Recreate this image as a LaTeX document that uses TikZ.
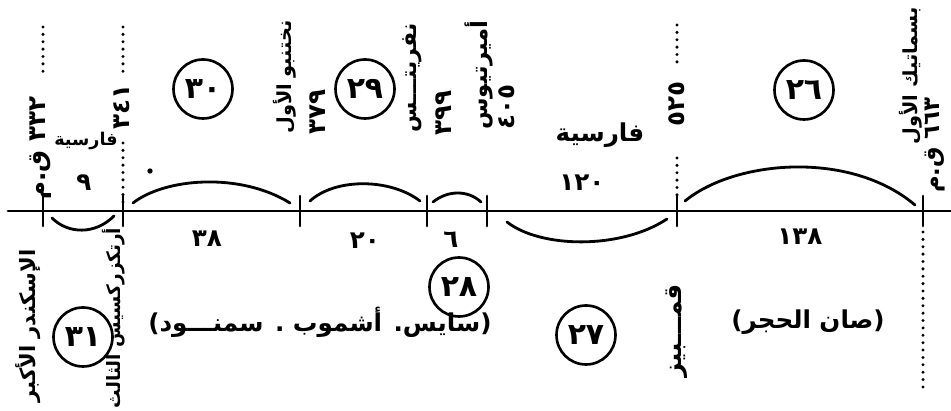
\documentclass[tikz,border=0pt]{standalone}
\usepackage{fontspec}
\newfontfamily\arabicfont[Script=Arabic]{DejaVu Sans}
\TeXXeTstate=1
\newcommand\artxt[1]{\arabicfont\bfseries\beginR #1\endR}

\begin{document}
\begin{tikzpicture}[x=0.02cm,y=-0.02cm,
    hand/.style={line width=1.6pt,line cap=round},
    dots/.style={line width=1.9pt,line cap=round,dash pattern=on 0pt off 4.2pt},
    era/.style={draw,circle,line width=1.5pt,minimum size=1.18cm,inner sep=0pt,font=\fontsize{17}{17}\selectfont},
    vlab/.style={rotate=90,inner sep=0pt,font=\fontsize{14}{14}\selectfont},
    vlong/.style={vlab,font=\fontsize{11}{11}\selectfont},
    lab/.style={inner sep=0pt,font=\fontsize{14}{14}\selectfont}]
	\useasboundingbox (0,0) rectangle (951,411);
	\draw[hand] (8,211) -- (951,211);
	\foreach \x in {43,123,300,427,487,677,923}
		\draw[hand] (\x,196) -- (\x,226);
	\draw[dots] (43,27) -- (43,72);
	\draw[dots] (123,27) -- (123,72);
	\draw[dots] (123,143) -- (123,205);
	\draw[dots] (677,25) -- (677,62);
	\draw[dots] (677,158) -- (677,200);
	\draw[dots] (923,232) -- (923,392);
	\draw[hand] (133,203) .. controls (165,178) and (240,172) .. (290,203);
	\draw[hand] (310,201) .. controls (335,178) and (390,178) .. (420,201);
	\draw[hand] (433,202) .. controls (448,190) and (468,190) .. (481,202);
	\draw[hand] (685,201) .. controls (735,160) and (850,150) .. (915,205);
	\draw[hand] (52,218) .. controls (68,234) and (95,235) .. (114,216);
	\draw[hand] (507,222) .. controls (540,248) and (620,250) .. (667,219);
	\fill (150,171) circle[radius=1.5pt];
	\node[era] (d30) at (203,89) {\artxt{٣٠}};
	\node[era] (d29) at (365,89) {\artxt{٢٩}};
	\node[era] (d26) at (804,90) {\artxt{٢٦}};
	\node[era] (d28) at (459,287) {\artxt{٢٨}};
	\node[era] (d27) at (586,335) {\artxt{٢٧}};
	\node[era] (d31) at (83,337) {\artxt{٣١}};
	\node[vlab] (y332) at (41,148) {\artxt{٣٣٢ ق.م}};
	\node[vlab] (y341) at (122,107) {\artxt{٣٤١}};
	\node[vlong] (nakht) at (285,77) {\artxt{نختنبو الأول}};
	\node[vlab] (y379) at (318,112) {\artxt{٣٧٩}};
	\node[vlong,font=\fontsize{12.5}{12.5}\selectfont] (nef) at (412,78) {\artxt{نفريتـــس}};
	\node[vlab] (y399) at (444,113) {\artxt{٣٩٩}};
	\node[vlong,font=\fontsize{13}{13}\selectfont] (amyr) at (479,75) {\artxt{أميرتيوس}};
	\node[vlab] (y405) at (507,107) {\artxt{٤٠٥}};
	\node[vlab] (y525) at (677,104) {\artxt{٥٢٥}};
	\node[vlong] (psam) at (911,76) {\artxt{بسماتيك الأول}};
	\node[vlab,font=\fontsize{13}{13}\selectfont] (y663) at (935,145) {\artxt{٦٦٣ ق.م}};
	\node[vlong,font=\fontsize{12}{12}\selectfont] (alex) at (28,326) {\artxt{الإسكندر الأكبر}};
	\node[vlong,font=\fontsize{10.5}{10.5}\selectfont] (artx) at (114,318) {\artxt{أرتكزركسيس الثالث}};
	\node[vlab] (camb) at (677,331) {\artxt{قمـــبيز}};
	\node[lab,font=\fontsize{10}{10}\selectfont] (pers1) at (86,141) {\artxt{فارسية}};
	\node[lab] (n9) at (84,183) {\artxt{٩}};
	\node[lab] (pers2) at (600,135) {\artxt{فارسية}};
	\node[lab] (n120) at (582,183) {\artxt{١٢٠}};
	\node[lab] (n38) at (207,239) {\artxt{٣٨}};
	\node[lab] (n20) at (365,241) {\artxt{٢٠}};
	\node[lab] (n6) at (451,240) {\artxt{٦}};
	\node[lab] (n138) at (800,237) {\artxt{١٣٨}};
	\node[lab] (cities) at (320,322) {\artxt{(سايس. أشموب . سمنـــود)}};
	\node[lab] (tanis) at (808,322) {\artxt{(صان الحجر)}};
\end{tikzpicture}
\end{document}
